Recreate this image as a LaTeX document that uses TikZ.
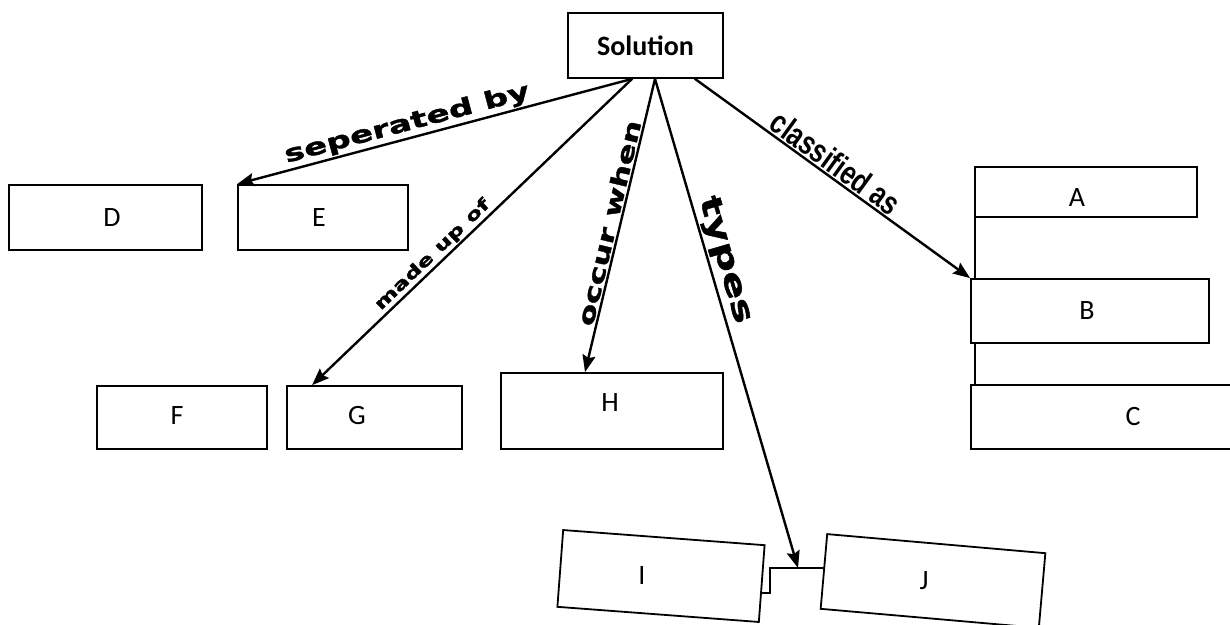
\documentclass[tikz,border=0pt]{standalone}
\usepackage{fontspec}
\setmainfont{Carlito}
\newfontfamily\widefont[FakeStretch=1.45,FakeBold=1.6]{DejaVu Sans Bold}
\newfontfamily\narrowfont[FakeStretch=0.77]{Liberation Sans Bold}
\usetikzlibrary{arrows.meta,calc}

\begin{document}
\begin{tikzpicture}[
    x=1pt, y=-1pt, >={Stealth[length=17pt,width=13pt,inset=2.5pt]}, line cap=round,
    box/.style    ={draw, line width=1.8pt, inner sep=0pt},
    letter/.style ={font=\fontsize{28}{28}\selectfont, inner sep=0pt},
    arr/.style    ={->, line width=2.4pt},
    link/.style   ={line width=1.3pt},
    wlab/.style   ={sloped, anchor=south, inner sep=1.5pt}
]
\clip (0,0) rectangle (1230,624);

% top concept
\node[box, minimum width=155pt, minimum height=65pt, font=\bfseries\fontsize{28}{28}\selectfont] (sol) at (645.5,45.5) {Solution};

% D and E (y=217)
\node[box, minimum width=193pt, minimum height=65pt, label={[letter, xshift=6.5pt]center:D}] (d) at (105.5,217.5) {};
\node[box, minimum width=170pt, minimum height=65pt, label={[letter, xshift=-4pt]center:E}] (e) at (323,217.5) {};

% F, G and H (y=417)
\node[box, minimum width=170pt, minimum height=63pt, label={[letter, xshift=-5pt, yshift=2pt]center:F}] (f) at (182,417.5) {};
\node[box, minimum width=175pt, minimum height=63pt, label={[letter, xshift=-17.5pt, yshift=2pt]center:G}] (g) at (374.5,417.5) {};
\node[box, minimum width=222pt, minimum height=76pt, label={[letter, xshift=-2pt, yshift=8pt]center:H}] (h) at (612,411) {};

% A, B and C on the right
\node[box, minimum width=222pt, minimum height=50pt, label={[letter, xshift=-9pt, yshift=-6pt]center:A}] (a) at (1086,192) {};
\node[box, minimum width=238pt, minimum height=64pt, label={[letter, xshift=-3pt]center:B}] (b) at (1090,311) {};
\node[box, minimum width=289pt, minimum height=64pt, label={[letter, xshift=17.5pt]center:C}] (c) at (1115.5,417) {};
\draw[link] ([xshift=1pt]a.south west) -- ([xshift=1pt]a.south west |- b.north);
\draw[link] ([xshift=5pt]b.south west) -- ([xshift=5pt]b.south west |- c.north);

% I and J, tilted
\node[box, rotate=-4.3, minimum width=202pt, minimum height=77pt, label={[letter, xshift=-19pt]center:I}] (i) at (661,576) {};
\node[box, rotate=-5, minimum width=219pt, minimum height=75pt, label={[letter, xshift=-9pt]center:J}] (j) at (933,581) {};
\coordinate (ij) at (798,568);
\draw[line width=2pt] ($(i.east)+(0,9)$) -- ++(7,0) |- ($(j.west)+(0,-3.5)$);

% linking phrases
\draw[arr] ([xshift=-13.5pt]sol.south) -- node[wlab, pos=0.56, font=\widefont\fontsize{23.5}{23.5}\selectfont] {seperated by} (e.north west);
\draw[arr] ([xshift=-13.5pt]sol.south) -- node[wlab, pos=0.6, font=\widefont\fontsize{16.5}{16.5}\selectfont] {made up of} ([xshift=26pt]g.north west);
\draw[arr] ([xshift=9.5pt]sol.south) -- node[wlab, pos=0.5, font=\widefont\fontsize{22.5}{22.5}\selectfont] {occur when} ([xshift=-27pt]h.north);
\draw[arr] ([xshift=9.5pt]sol.south) -- node[wlab, pos=0.38, font=\widefont\fontsize{29}{29}\selectfont] {types} (ij);
\draw[arr] ([xshift=49.5pt]sol.south) -- node[wlab, pos=0.48, font=\narrowfont\fontsize{33}{33}\selectfont] {classified as} (b.north west);
\end{tikzpicture}
\end{document}
